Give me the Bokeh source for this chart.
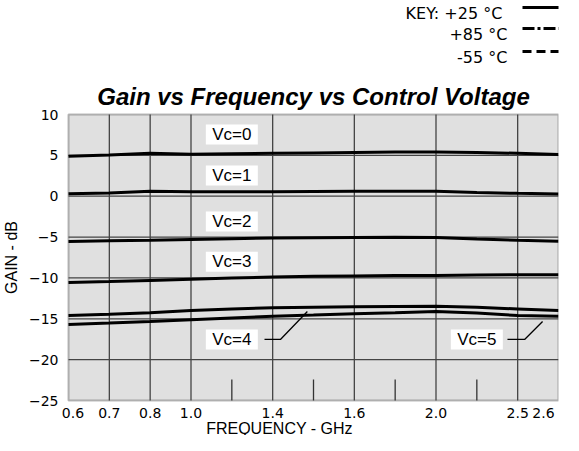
import math
from bokeh.plotting import figure
from bokeh.models import FixedTicker, ColumnDataSource, BoxAnnotation
from bokeh.core.properties import value
from bokeh.embed import file_html
from bokeh.resources import INLINE

# ---------------- data ----------------
# index positions on the (evenly spaced) frequency grid
grid_idx = [0, 1, 2, 3, 4, 5, 6, 7, 8, 9, 10, 11, 12]
freq_tick_idx = [0, 1, 2, 3, 5, 7, 9, 11, 12]
freq_tick_labels = ["0.6", "0.7", "0.8", "1.0", "1.4", "1.6", "2.0", "2.5", "2.6"]
short_tick_idx = [4, 6, 8, 10]
gain_ticks = [-25, -20, -15, -10, -5, 0, 5, 10]

gain_vc0 = [4.9, 5.05, 5.25, 5.15, 5.2, 5.25, 5.3, 5.35, 5.4, 5.4, 5.35, 5.25, 5.1]
gain_vc1 = [0.3, 0.4, 0.6, 0.55, 0.55, 0.55, 0.58, 0.6, 0.6, 0.6, 0.45, 0.35, 0.28]
gain_vc2 = [-5.55, -5.45, -5.4, -5.3, -5.2, -5.12, -5.08, -5.05, -5.03, -5.05, -5.25, -5.4, -5.5]
gain_vc3 = [-10.55, -10.45, -10.3, -10.15, -10.0, -9.9, -9.8, -9.75, -9.7, -9.7, -9.65, -9.6, -9.6]
gain_vc4 = [-14.6, -14.45, -14.25, -14.0, -13.8, -13.65, -13.58, -13.52, -13.5, -13.48, -13.6, -13.8, -14.0]
gain_vc5 = [-15.7, -15.53, -15.33, -15.12, -14.9, -14.7, -14.55, -14.38, -14.25, -14.1, -14.3, -14.6, -14.7]

vc_names = ["Vc=0", "Vc=1", "Vc=2", "Vc=3", "Vc=4", "Vc=5"]
vc_label_x = [4.0, 4.0, 4.0, 4.0, 4.0, 10.0]
vc_label_y = [7.55, 2.54, -3.09, -8.03, -17.53, -17.53]

# leader lines from Vc=4 / Vc=5 labels to their curves
leader4_x = [4.80, 5.19, 5.85]
leader4_y = [-17.53, -17.53, -14.11]
leader5_x = [10.75, 11.17, 11.61]
leader5_y = [-17.53, -17.53, -15.33]

title_text = "Gain vs Frequency vs Control Voltage"
key_texts = ["KEY:  +25  \u00b0C", "+85  \u00b0C", "-55  \u00b0C"]
key_dashes = ["solid", "12 3 3 3", "9 5"]

FONT = "Liberation Sans"
TICKFONT = "DejaVu Sans"
NB = "\u00a0"

# ---------------- layout geometry (pixels) ----------------
FRAME_W, PLOT_H = 490, 286                       # chart box size
HEAD_H, FOOT_H, LEFT_W = 114, 35, 68             # bands above, below and left of the chart box
X0, X1 = 0, 12
Y0, Y1 = gain_ticks[0], gain_ticks[-1]
PX_PER_X = FRAME_W / (X1 - X0)
PX_PER_Y = PLOT_H / (Y1 - Y0)
X_LEFT = X0 - LEFT_W / PX_PER_X
Y_TOP = Y1 + HEAD_H / PX_PER_Y
Y_BOT = Y0 - FOOT_H / PX_PER_Y


def x_at(px_from_box_left):
    return X0 + px_from_box_left / PX_PER_X


def y_above(px_above_box_top):
    return Y1 + px_above_box_top / PX_PER_Y


p = figure(width=LEFT_W + FRAME_W + 5, height=HEAD_H + PLOT_H + FOOT_H,
           x_range=(X_LEFT, X1), y_range=(Y_BOT, Y_TOP),
           output_backend="svg", toolbar_location=None,
           min_border_left=0, min_border_right=5, min_border_top=0, min_border_bottom=0,
           background_fill_color="white", border_fill_color="white")
p.outline_line_color = None

# grey chart box with dark border, under everything else
box = BoxAnnotation(left=X0, right=X1, bottom=Y0, top=Y1, fill_color="#e0e0e0", fill_alpha=1.0,
                    line_color="#1a1a1a", line_width=2, level="underlay")
p.center = [box] + list(p.center)

# axes, fixed on the edges of the chart box
p.xaxis.ticker = FixedTicker(ticks=freq_tick_idx)
p.xaxis.fixed_location = Y0
ov = {t: l for t, l in zip(freq_tick_idx, freq_tick_labels)}
ov[freq_tick_idx[0]] = NB * 2 + freq_tick_labels[0]
ov[freq_tick_idx[-1]] = freq_tick_labels[-1] + NB * 2
p.xaxis.major_label_overrides = ov
p.yaxis.ticker = FixedTicker(ticks=gain_ticks)
p.yaxis.fixed_location = X0
for ax in (p.xaxis[0], p.yaxis[0]):
    ax.axis_line_color = None
    ax.major_tick_line_color = None
    ax.minor_tick_line_color = None
    ax.major_tick_out = 0
    ax.major_tick_in = 0
    ax.minor_tick_out = 0
    ax.minor_tick_in = 0
    ax.major_label_text_font = TICKFONT
    ax.major_label_text_font_size = "14px"
    ax.major_label_text_color = "black"
    ax.axis_label_text_font = FONT
    ax.axis_label_text_font_size = "16px"
    ax.axis_label_text_font_style = "normal"
    ax.axis_label_text_color = "black"
p.xaxis.axis_label = "FREQUENCY - GHz"
p.xaxis.major_label_standoff = 4
p.xaxis.axis_label_standoff = -4
p.yaxis.major_label_standoff = 10

# gain axis title, centred on the chart box
p.text(x=[x_at(-57)], y=[(Y0 + Y1) / 2], text=["GAIN - dB"], angle=math.pi / 2,
       text_align="center", text_baseline="middle", text_font=value(FONT),
       text_font_size="16px", text_color="black")

# grid lines inside the chart box only
p.grid.visible = False
hg = gain_ticks[1:-1]
p.segment(x0=[X0] * len(hg), y0=hg, x1=[X1] * len(hg), y1=hg,
          line_color="#444444", line_width=1.3)
vg = freq_tick_idx[1:-1]
p.segment(x0=vg, y0=[Y0] * len(vg), x1=vg, y1=[Y1] * len(vg),
          line_color="#444444", line_width=1.3)

# short ticks at intermediate grid positions
p.segment(x0=short_tick_idx, y0=[Y0] * len(short_tick_idx),
          x1=short_tick_idx, y1=[-22.43] * len(short_tick_idx),
          line_color="#333333", line_width=1.3)

for ys in (gain_vc0, gain_vc1, gain_vc2, gain_vc3, gain_vc4, gain_vc5):
    p.line(grid_idx, ys, line_color="black", line_width=3)

p.line(leader4_x, leader4_y, line_color="black", line_width=1.3)
p.line(leader5_x, leader5_y, line_color="black", line_width=1.3)

src = ColumnDataSource(dict(x=vc_label_x, y=vc_label_y, t=vc_names))
p.rect(x="x", y="y", width=52, height=20, width_units="screen", height_units="screen",
       source=src, fill_color="white", line_color=None)
p.text(x="x", y="y", text="t", source=src, text_align="center", text_baseline="middle",
       text_font=value(FONT), text_font_size="17px", text_color="black")

# ---------------- title and key in the band above the chart box ----------------
p.text(x=[(X0 + X1) / 2], y=[y_above(18)], text=[title_text], text_align="center",
       text_baseline="alphabetic", text_font=value(FONT), text_font_size="24px",
       text_font_style="bold italic", text_color="black")
key_text_y = [y_above(101.2), y_above(80.2), y_above(57.2)]
key_line_y = [y_above(107), y_above(86), y_above(63)]
p.text(x=[x_at(444)] * 3, y=key_text_y, text=key_texts, text_align="right",
       text_baseline="alphabetic", text_font=value(TICKFONT), text_font_size="16px",
       text_color="black")
for ly, d in zip(key_line_y, key_dashes):
    p.line([x_at(454), x_at(492)], [ly, ly], line_color="black", line_width=3, line_dash=d)

open("out.html", "w").write(file_html(p, INLINE))
